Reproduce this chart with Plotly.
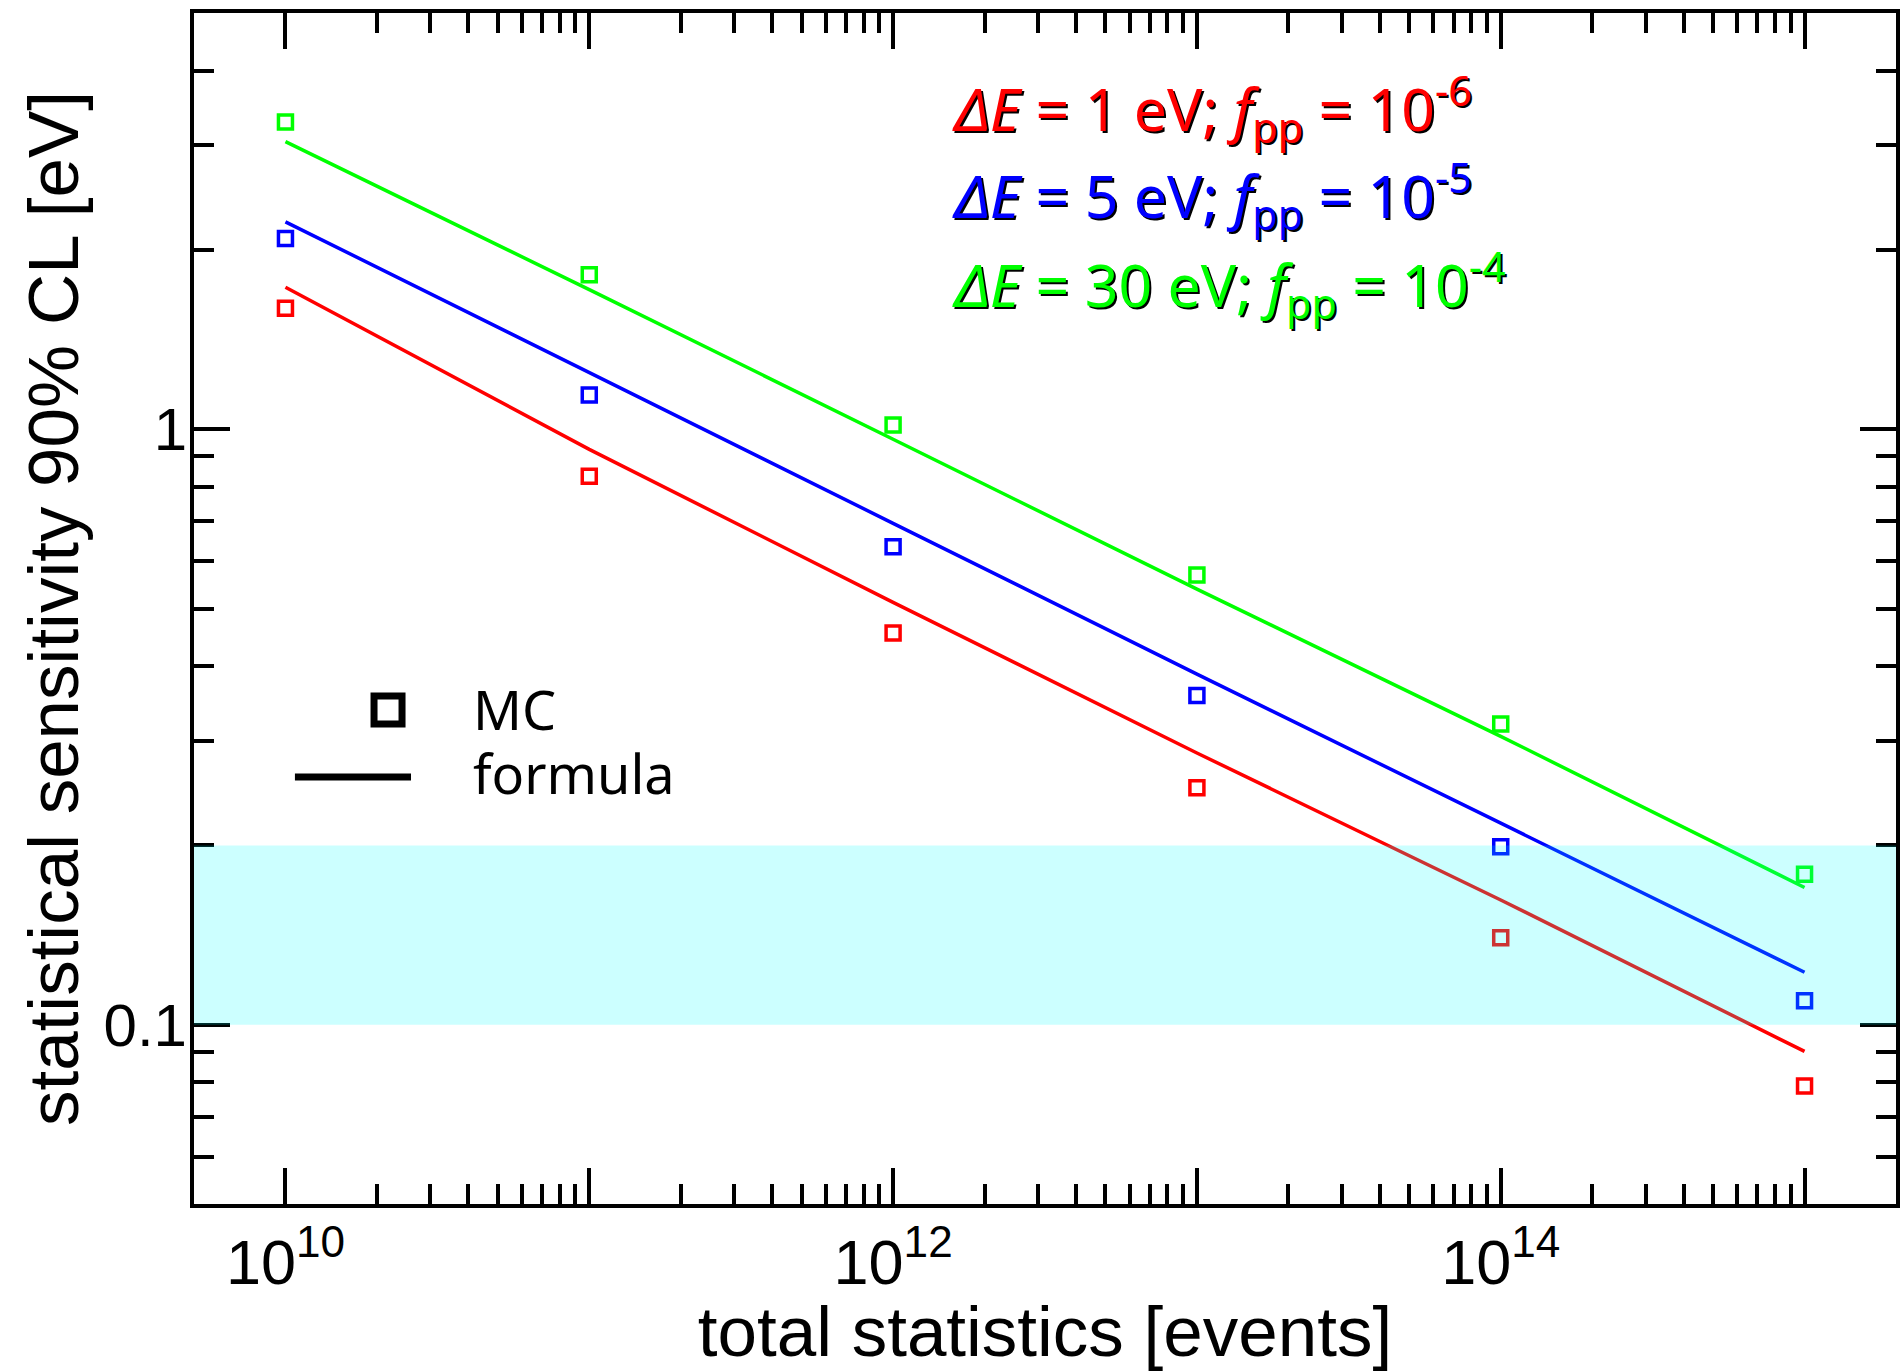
import math
import plotly.graph_objects as go

# ---- data ----
events = [1e10, 1e11, 1e12, 1e13, 1e14, 1e15]

mc_red = [1.597, 0.834, 0.455, 0.250, 0.140, 0.0789]
mc_blue = [2.09, 1.141, 0.635, 0.357, 0.199, 0.1097]
mc_green = [3.28, 1.817, 1.017, 0.569, 0.320, 0.179]

formula_red = [1.732, 0.925, 0.512, 0.286, 0.162, 0.0902]
formula_blue = [2.23, 1.243, 0.695, 0.388, 0.218, 0.1225]
formula_green = [3.04, 1.716, 0.962, 0.539, 0.305, 0.170]

series_labels = [
    "<i>ΔE</i> = 1 eV; <i>f</i><sub>pp</sub> = 10<sup>-6</sup>",
    "<i>ΔE</i> = 5 eV; <i>f</i><sub>pp</sub> = 10<sup>-5</sup>",
    "<i>ΔE</i> = 30 eV; <i>f</i><sub>pp</sub> = 10<sup>-4</sup>",
]
legend_labels = ["MC", "formula"]

band_low, band_high = 0.1, 0.2

x_range = [5e9, 2e15]
y_range = [0.05, 5]

x_major = [1e10, 1e11, 1e12, 1e13, 1e14, 1e15]
x_major_text = ["10<sup>10</sup>", " ", "10<sup>12</sup>", " ", "10<sup>14</sup>", " "]
x_minor = [m * 10 ** e for e in range(10, 15) for m in range(2, 10)]
y_major = [0.1, 1]
y_major_text = ["0.1", "1"]
y_minor = [0.06, 0.07, 0.08, 0.09] + [m / 10 for m in range(2, 10)] + [2, 3, 4]

colors = ["#ff0000", "#0000ff", "#00ff00"]
mcs = [mc_red, mc_blue, mc_green]
forms = [formula_red, formula_blue, formula_green]

fig = go.Figure()
for c, f in zip(colors, forms):
    fig.add_trace(go.Scatter(x=events, y=f, mode="lines",
                             line=dict(color=c, width=3.5), showlegend=False))
for c, m in zip(colors, mcs):
    fig.add_trace(go.Scatter(x=events, y=m, mode="markers",
                             marker=dict(symbol="square-open", size=14,
                                         color=c, line=dict(color=c, width=3.5)),
                             showlegend=False))

# band
fig.add_shape(type="rect", xref="paper", x0=0, x1=1, yref="y",
              y0=band_low, y1=band_high, layer="above",
              fillcolor="rgba(0,255,255,0.2)", line=dict(width=0))

# legend key (drawn)
fig.add_shape(type="rect", xref="paper", yref="paper",
              xsizemode="pixel", ysizemode="pixel",
              xanchor=0.114, yanchor=0.4148, x0=-14, x1=14, y0=-14, y1=14,
              line=dict(color="black", width=7), fillcolor="rgba(0,0,0,0)")
fig.add_shape(type="line", xref="paper", yref="paper",
              x0=0.0593, x1=0.1275, y0=0.3585, y1=0.3585,
              line=dict(color="black", width=7))

legend_font = dict(family="Noto Sans", size=54, color="black")
fig.add_annotation(text=legend_labels[0], xref="paper", yref="paper",
                   x=0.1625, y=0.4155, xanchor="left", yanchor="middle",
                   showarrow=False, font=legend_font)
fig.add_annotation(text=legend_labels[1], xref="paper", yref="paper",
                   x=0.1625, y=0.3615, xanchor="left", yanchor="middle",
                   showarrow=False, font=legend_font)

label_y = [0.920, 0.847, 0.772]
for txt, c, yy in zip(series_labels, colors, label_y):
    fig.add_annotation(text=txt, xref="paper", yref="paper", x=0.444, y=yy,
                       xanchor="left", yanchor="middle", showarrow=False,
                       font=dict(family="Noto Sans", size=59, color=c,
                                 shadow="2px 2px 0px #000000"))

axis_common = dict(
    type="log", showgrid=False, zeroline=False,
    showline=True, linecolor="black", linewidth=4, mirror="ticks",
    ticks="inside", ticklen=36, tickwidth=3.5, tickcolor="black",
    tickmode="array",
)

fig.update_xaxes(
    **axis_common,
    range=[math.log10(x_range[0]), math.log10(x_range[1])],
    tickvals=x_major, ticktext=x_major_text,
    tickfont=dict(family="Liberation Sans", size=63, color="black"),
    minor=dict(tickmode="array", tickvals=x_minor, ticks="inside",
               ticklen=20, tickwidth=3.5, tickcolor="black"),
    title=dict(text="total statistics [events]",
               font=dict(family="Liberation Sans", size=71, color="black"),
               standoff=0),
)
fig.update_yaxes(
    **axis_common,
    range=[math.log10(y_range[0]), math.log10(y_range[1])],
    tickvals=y_major, ticktext=y_major_text,
    tickfont=dict(family="Liberation Sans", size=60, color="black"),
    ticklabelstandoff=-9,
    minor=dict(tickmode="array", tickvals=y_minor, ticks="inside",
               ticklen=20, tickwidth=3.5, tickcolor="black"),
    title=dict(text="statistical sensitivity 90% CL [eV]",
               font=dict(family="Liberation Sans", size=71, color="black"),
               standoff=3),
)

fig.update_layout(
    width=1903, height=1371,
    margin=dict(l=194, r=7, t=13, b=167, autoexpand=False),
    plot_bgcolor="white", paper_bgcolor="white",
    showlegend=False,
)

fig.write_html("out.html")
